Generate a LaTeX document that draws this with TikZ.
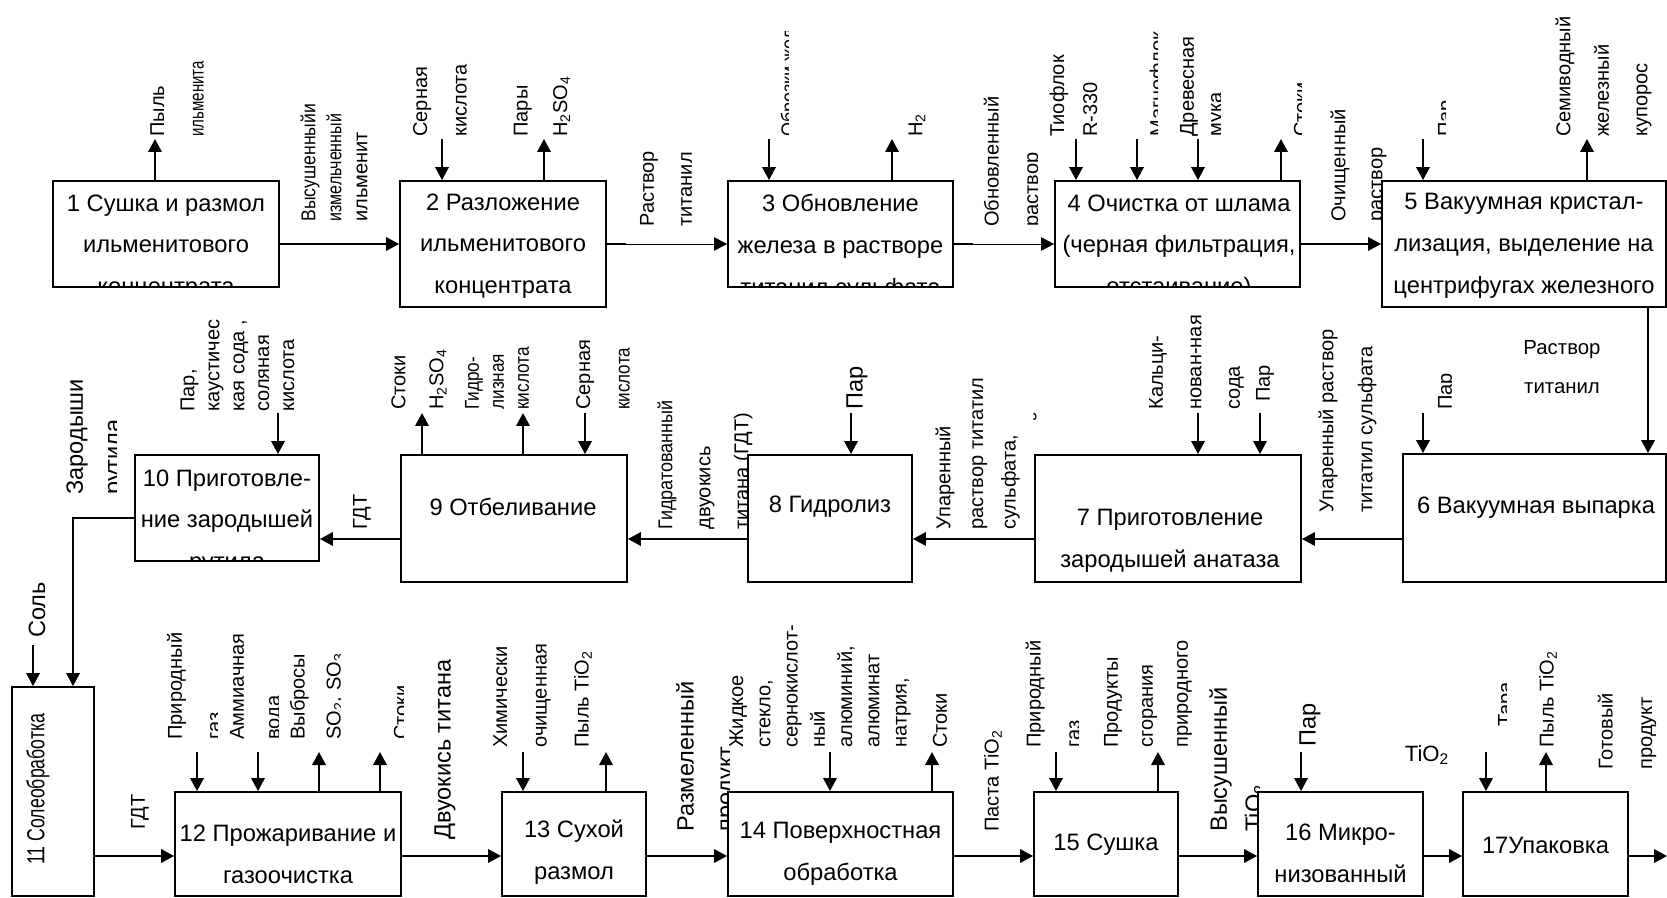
\documentclass[tikz,border=0pt]{standalone}
\usepackage{fontspec}
\setmainfont{Liberation Sans}
\usepackage{graphicx}
\usetikzlibrary{arrows.meta}

\tikzset{
  box/.style={draw, fill=white, line width=1.1pt, inner sep=0pt},
  boxtext/.style={align=center, inner sep=0pt, font=\fontsize{13.5pt}{23.8pt}\selectfont},
  hlbl/.style={align=center, inner sep=0pt, font=\fontsize{11.6pt}{22pt}\selectfont},
  lbl/.style={rotate=90, anchor=west, inner sep=0pt, align=left, font=\fontsize{11.4pt}{#1}\selectfont},
  lbl/.default=22.5pt,
  biglbl/.style={rotate=90, anchor=west, inner sep=0pt, align=left, font=\fontsize{13.4pt}{#1}\selectfont},
  biglbl/.default=22.5pt,
  flow/.style={line width=1.1pt, -{Triangle[length=0.26cm,width=0.27cm]}},
  thinflow/.style={flow, line width=0.4pt},
}

\begin{document}
\begin{tikzpicture}[x=0.02cm, y=-0.02cm]
  \useasboundingbox (0,0) rectangle (1667,898);

  % labels, first row
  \node[lbl] (l1) at (177,137) {Пыль\\\scalebox{0.75}[1]{ильменита}};
  \node[lbl=14.8pt] (l12) at (334,222) {\scalebox{0.88}[1]{Высушенныйи}\\\scalebox{0.8}[1]{измельченный}\\ильменит};
  \node[lbl] (l2a) at (440,137) {Серная\\кислота};
  \node[lbl] (l2b) at (542,137) {Пары\\H\textsubscript{2}SO\textsubscript{4}};
  \node[lbl=21.6pt] (l23) at (666,227) {Раствор\\титанил};
  \begin{scope}
    \clip (770,32) rectangle (788,140);
    \node[lbl] (l3a) at (790,137) {\scalebox{0.9}[1]{Обрезки железа}};
  \end{scope}
  \node[lbl] (l3b) at (917,137) {H\textsubscript{2}};
  \begin{scope}
    \clip (980,20) rectangle (1037,240);
    \node[lbl] (l34) at (1013,227) {Обновленный\\раствор};
  \end{scope}
  \begin{scope}
    \clip (1040,20) rectangle (1097,140);
    \node[lbl=18.8pt] (l4a) at (1073.5,137) {Тиофлок\\R-330};
  \end{scope}
  \begin{scope}
    \clip (1140,20) rectangle (1157,140);
    \node[lbl] (l4b) at (1159,137) {Магнофлок};
  \end{scope}
  \begin{scope}
    \clip (1170,20) rectangle (1220,140);
    \node[lbl=15.9pt] (l4c) at (1203,137) {Древесная\\мука};
  \end{scope}
  \begin{scope}
    \clip (1285,20) rectangle (1301,140);
    \node[lbl] (l4d) at (1301,137) {Стоки};
  \end{scope}
  \node[lbl=21pt] (l45) at (1358.5,222) {Очищенный\\раствор};
  \begin{scope}
    \clip (1425,20) rectangle (1445,140);
    \node[lbl] (l5a) at (1447,137) {Пар};
  \end{scope}
  \node[lbl=21.9pt] (l5b) at (1603.5,137) {Семиводный\\железный\\купорос};

  % labels, second row
  \node[hlbl] (l56) at (1562,367) {Раствор\\титанил};
  \begin{scope}
    \clip (1430,340) rectangle (1451,415);
    \node[lbl] (l6a) at (1447,410) {Пар};
  \end{scope}
  \node[lbl=22.2pt] (l67) at (1347.5,513) {Упаренный раствор\\титатил сульфата};
  \node[lbl=21.9pt] (l7a) at (1196.5,410) {Кальци-\\нован-ная\\сода};
  \node[lbl] (l7b) at (1265,402) {Пар};
  \begin{scope}
    \clip (900,300) rectangle (1036,540);
    \node[lbl=18.6pt] (l78) at (994,530) {Упаренный\\раствор титатил\\сульфата,\\содержащий};
  \end{scope}
  \node[biglbl] (l8a) at (857,410) {Пар};
  \node[lbl=21.6pt] (l89) at (705,530) {\scalebox{0.9}[1]{Гидратованный}\\двуокись\\титана (ГДТ)};
  \node[lbl=21.6pt] (l9a) at (419,410) {Стоки\\H\textsubscript{2}SO\textsubscript{4}};
  \node[lbl=14.2pt] (l9b) at (497,410) {\scalebox{0.86}[1]{Гидро-}\\\scalebox{0.86}[1]{лизная}\\\scalebox{0.86}[1]{кислота}};
  \node[lbl] (l9c) at (603,410) {Серная\\\scalebox{0.85}[1]{кислота}};
  \node[lbl] (l910) at (362,530) {ГДТ};
  \node[lbl=14.2pt] (l10a) at (237.5,412) {Пар,\\каустичес\\кая сода ,\\соляная\\кислота};
  \begin{scope}
    \clip (50,300) rectangle (116,500);
    \node[biglbl=21.6pt] (l1011) at (96,495) {Зародыши\\рутила};
  \end{scope}

  % labels, third row
  \node[biglbl] (l11a) at (37,638) {Соль};
  \node[lbl] (l1112) at (140,830) {ГДТ};
  \begin{scope}
    \clip (150,600) rectangle (217,745);
    \node[lbl=22.2pt] (l12a) at (194,740) {Природный\\газ};
  \end{scope}
  \begin{scope}
    \clip (220,600) rectangle (278,745);
    \node[lbl=20.5pt] (l12b) at (257,740) {Аммиачная\\вода};
  \end{scope}
  \begin{scope}
    \clip (280,600) rectangle (340,745);
    \node[lbl=20.5pt] (l12c) at (317,740) {Выбросы\\SO\textsubscript{2}, SO\textsubscript{3}};
  \end{scope}
  \begin{scope}
    \clip (385,600) rectangle (403,745);
    \node[lbl] (l12d) at (401,740) {Стоки};
  \end{scope}
  \node[biglbl] (l1213) at (445,840) {Двуокись титана};
  \node[lbl] (l13a) at (522,748) {Химически\\очищенная};
  \node[lbl] (l13b) at (583,748) {Пыль TiO\textsubscript{2}};
  \begin{scope}
    \clip (650,600) rectangle (729,845);
    \node[biglbl] (l1314) at (707,832) {Размеленный\\продукт};
  \end{scope}
  \node[lbl=15.5pt] (l14a) at (820,748) {Жидкое\\стекло,\\сернокислот-\\ный\\алюминий,\\алюминат\\натрия,};
  \node[lbl] (l14b) at (940,748) {Стоки};
  \node[lbl] (l1415) at (993,832) {Паста TiO\textsubscript{2}};
  \begin{scope}
    \clip (1010,600) rectangle (1078,752);
    \node[lbl] (l15a) at (1053,748) {Природный\\газ};
  \end{scope}
  \node[lbl=19.9pt] (l15b) at (1148,748) {Продукты\\сгорания\\природного};
  \begin{scope}
    \clip (1190,600) rectangle (1259,845);
    \node[biglbl=19.9pt] (l1516) at (1237.5,832) {Высушенный\\TiO\textsubscript{2}};
  \end{scope}
  \node[biglbl] (l16a) at (1310,747) {Пар};
  \node[hlbl, font=\fontsize{12.6pt}{14pt}\selectfont] (l1617) at (1427,755) {TiO\textsubscript{2}};
  \begin{scope}
    \clip (1490,600) rectangle (1506,752);
    \node[lbl] (l17a) at (1507,727) {Тара};
  \end{scope}
  \node[lbl] (l17b) at (1548,748) {Пыль TiO\textsubscript{2}};
  \node[lbl] (l17c) at (1627,770) {Готовый\\продукт};

  % process boxes
  \node[box, minimum width=4.52cm, minimum height=2.12cm] (b1) at (166,234) {};
  \node[box, minimum width=4.12cm, minimum height=2.52cm] (b2) at (503,244) {};
  \node[box, minimum width=4.50cm, minimum height=2.12cm] (b3) at (840.5,234) {};
  \node[box, minimum width=4.90cm, minimum height=2.12cm] (b4) at (1177.5,234) {};
  \node[box, minimum width=5.68cm, minimum height=2.52cm] (b5) at (1524,244) {};
  \node[box, minimum width=5.26cm, minimum height=2.56cm] (b6) at (1534.5,518) {};
  \node[box, minimum width=5.32cm, minimum height=2.54cm] (b7) at (1168,518.5) {};
  \node[box, minimum width=3.28cm, minimum height=2.54cm] (b8) at (830,518.5) {};
  \node[box, minimum width=4.52cm, minimum height=2.54cm] (b9) at (514,518.5) {};
  \node[box, minimum width=3.68cm, minimum height=2.12cm] (b10) at (227,508) {};
  \node[box, minimum width=1.64cm, minimum height=4.18cm] (b11) at (53,791.5) {};
  \node[box, minimum width=4.52cm, minimum height=2.08cm] (b12) at (288,844) {};
  \node[box, minimum width=2.88cm, minimum height=2.08cm] (b13) at (574,844) {};
  \node[box, minimum width=4.50cm, minimum height=2.08cm] (b14) at (840.5,844) {};
  \node[box, minimum width=2.88cm, minimum height=2.08cm] (b15) at (1106,844) {};
  \node[box, minimum width=3.30cm, minimum height=2.08cm] (b16) at (1340.5,844) {};
  \node[box, minimum width=3.30cm, minimum height=2.08cm] (b17) at (1545.5,844) {};

  % box texts
  \begin{scope}
    \clip (b1.south west) rectangle (b1.north east);
    \node[boxtext] (t1) at (166,247) {1 Сушка и размол\\ильменитового\\концентрата};
  \end{scope}
  \node[boxtext] (t2) at (503,246) {2 Разложение\\ильменитового\\концентрата};
  \begin{scope}
    \clip (b3.south west) rectangle (b3.north east);
    \node[boxtext] (t3) at (840.5,247) {3 Обновление\\железа в растворе\\титанил сульфата};
  \end{scope}
  \begin{scope}
    \clip (b4.south west) rectangle (b4.north east);
    \node[boxtext] (t4) at (1179,247) {4 Очистка от шлама\\(черная фильтрация,\\отстаивание)};
  \end{scope}
  \node[boxtext] (t5) at (1524,246) {5 Вакуумная кристал-\\лизация, выделение на\\центрифугах железного};
  \node[boxtext] (t6) at (1536,508) {6 Вакуумная выпарка};
  \node[boxtext] (t7) at (1170,541) {7 Приготовление\\зародышей анатаза};
  \node[boxtext] (t8) at (830,507) {8 Гидролиз};
  \node[boxtext] (t9) at (513,507) {9 Отбеливание};
  \begin{scope}
    \clip (b10.south west) rectangle (b10.north east);
    \node[boxtext] (t10) at (227,522) {10 Приготовле-\\ние зародышей\\рутила};
  \end{scope}
  \node[rotate=90, inner sep=0pt, font=\fontsize{14pt}{16pt}\selectfont] (t11) at (38,789) {\scalebox{0.72}[1]{11 Солеобработка}};
  \node[boxtext] (t12) at (288,854) {12 Прожаривание и\\газоочистка};
  \node[boxtext] (t13) at (574,852) {13 Сухой\\размол};
  \node[boxtext] (t14) at (840.5,854) {14 Поверхностная\\обработка};
  \node[boxtext] (t15) at (1106,845) {15 Сушка};
  \node[boxtext] (t16) at (1340.5,853) {16 Микро-\\низованный};
  \node[boxtext] (t17) at (1545.5,845) {17Упаковка};

  % free ends of the arrows
  \coordinate (r1) at (0,244);
  \coordinate (r2) at (0,539);
  \coordinate (r3) at (0,856);
  \coordinate (s2) at (626,244);
  \coordinate (s3) at (973,244);
  \coordinate (e1) at (155,139);
  \coordinate (f2) at (442,139);
  \coordinate (e2) at (544,139);
  \coordinate (f3) at (769,139);
  \coordinate (e3) at (892,139);
  \coordinate (f4a) at (1076,139);
  \coordinate (f4b) at (1137,139);
  \coordinate (f4c) at (1198,139);
  \coordinate (e4) at (1281,139);
  \coordinate (f5) at (1423,139);
  \coordinate (e5) at (1587,139);
  \coordinate (v56) at (1648,400);
  \coordinate (f6) at (1423,413);
  \coordinate (f7a) at (1198,413);
  \coordinate (f7b) at (1260,413);
  \coordinate (f8) at (851,413);
  \coordinate (e9a) at (422,413);
  \coordinate (e9b) at (523,413);
  \coordinate (f9) at (585,413);
  \coordinate (f10) at (278,413);
  \coordinate (k10) at (73,518);
  \coordinate (f11) at (33,645);
  \coordinate (f12a) at (197,752);
  \coordinate (f12b) at (258,752);
  \coordinate (e12a) at (319,752);
  \coordinate (e12b) at (380,752);
  \coordinate (f13) at (523,752);
  \coordinate (e13) at (606,752);
  \coordinate (f14) at (830,752);
  \coordinate (e14) at (932,752);
  \coordinate (f15) at (1056,752);
  \coordinate (e15) at (1158,752);
  \coordinate (f16) at (1301,752);
  \coordinate (f17) at (1486,752);
  \coordinate (e17) at (1546,752);
  \coordinate (out) at (1667,856);

  % main flow
  \draw[flow] (b1.east |- r1) -- (b2.west |- r1);
  \draw[line width=1.1pt] (b2.east |- r1) -- (s2);
  \draw[thinflow] (s2) -- (b3.west |- r1);
  \draw[line width=1.1pt] (b3.east |- r1) -- (s3);
  \draw[thinflow] (s3) -- (b4.west |- r1);
  \draw[flow] (b4.east |- r1) -- (b5.west |- r1);
  \draw[flow] (b5.south -| v56) -- (b6.north -| v56);
  \draw[flow] (b6.west |- r2) -- (b7.east |- r2);
  \draw[flow] (b7.west |- r2) -- (b8.east |- r2);
  \draw[flow] (b8.west |- r2) -- (b9.east |- r2);
  \draw[flow] (b9.west |- r2) -- (b10.east |- r2);
  \draw[flow] (b10.west |- k10) -- (k10) -- (b11.north -| k10);
  \draw[flow] (b11.east |- r3) -- (b12.west |- r3);
  \draw[flow] (b12.east |- r3) -- (b13.west |- r3);
  \draw[flow] (b13.east |- r3) -- (b14.west |- r3);
  \draw[flow] (b14.east |- r3) -- (b15.west |- r3);
  \draw[flow] (b15.east |- r3) -- (b16.west |- r3);
  \draw[flow] (b16.east |- r3) -- (b17.west |- r3);
  \draw[flow] (b17.east |- r3) -- (out);

  % inputs and outputs
  \draw[flow] (b1.north -| e1) -- (e1);
  \draw[flow] (f2) -- (b2.north -| f2);
  \draw[flow] (b2.north -| e2) -- (e2);
  \draw[flow] (f3) -- (b3.north -| f3);
  \draw[flow] (b3.north -| e3) -- (e3);
  \draw[flow] (f4a) -- (b4.north -| f4a);
  \draw[flow] (f4b) -- (b4.north -| f4b);
  \draw[flow] (f4c) -- (b4.north -| f4c);
  \draw[flow] (b4.north -| e4) -- (e4);
  \draw[flow] (f5) -- (b5.north -| f5);
  \draw[flow] (b5.north -| e5) -- (e5);
  \draw[flow] (f6) -- (b6.north -| f6);
  \draw[flow] (f7a) -- (b7.north -| f7a);
  \draw[flow] (f7b) -- (b7.north -| f7b);
  \draw[flow] (f8) -- (b8.north -| f8);
  \draw[flow] (b9.north -| e9a) -- (e9a);
  \draw[flow] (b9.north -| e9b) -- (e9b);
  \draw[flow] (f9) -- (b9.north -| f9);
  \draw[flow] (f10) -- (b10.north -| f10);
  \draw[flow] (f11) -- (b11.north -| f11);
  \draw[flow] (f12a) -- (b12.north -| f12a);
  \draw[flow] (f12b) -- (b12.north -| f12b);
  \draw[flow] (b12.north -| e12a) -- (e12a);
  \draw[flow] (b12.north -| e12b) -- (e12b);
  \draw[flow] (f13) -- (b13.north -| f13);
  \draw[flow] (b13.north -| e13) -- (e13);
  \draw[flow] (f14) -- (b14.north -| f14);
  \draw[flow] (b14.north -| e14) -- (e14);
  \draw[flow] (f15) -- (b15.north -| f15);
  \draw[flow] (b15.north -| e15) -- (e15);
  \draw[flow] (f16) -- (b16.north -| f16);
  \draw[flow] (f17) -- (b17.north -| f17);
  \draw[flow] (b17.north -| e17) -- (e17);
\end{tikzpicture}
\end{document}
